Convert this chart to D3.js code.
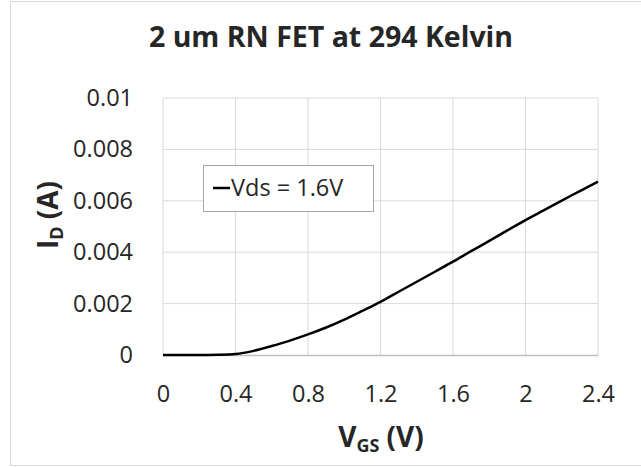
<!DOCTYPE html>
<html>
<head>
<meta charset="utf-8">
<script src="https://cdn.jsdelivr.net/npm/d3@7"></script>
<style>
  body { margin: 0; background: #fff; }
  text { font-family: "Open Sans", sans-serif; fill: #262626; }
</style>
</head>
<body>
<div id="chart"></div>
<script>
// data
var vgs = [0, 0.1, 0.2, 0.3, 0.4, 0.5, 0.6, 0.7, 0.8, 0.9, 1.0, 1.1, 1.2,
           1.3, 1.4, 1.5, 1.6, 1.7, 1.8, 1.9, 2.0, 2.1, 2.2, 2.3, 2.4];
var idValues = [0, 0, 0, 0.00001, 0.00004, 0.00016, 0.00035, 0.00056, 0.0008, 0.00107,
                0.00138, 0.00172, 0.00207, 0.00246, 0.00285, 0.00324, 0.00363, 0.00404,
                0.00444, 0.00485, 0.00525, 0.00563, 0.00601, 0.00638, 0.00675];
var xTicks = [0, 0.4, 0.8, 1.2, 1.6, 2, 2.4];
var yTicks = [0, 0.002, 0.004, 0.006, 0.008, 0.01];
var seriesName = "Vds = 1.6V";
var chartTitle = "2 um RN FET at 294 Kelvin";

var W = 641, H = 467;
var margin = { top: 98, right: 43, bottom: 112, left: 163 },
    width = W - margin.left - margin.right,
    height = H - margin.top - margin.bottom;

var svg = d3.select("#chart")
    .append("svg")
    .attr("width", W)
    .attr("height", H);

// outer chart border
svg.append("rect")
    .attr("x", 10.5).attr("y", 1.5)
    .attr("width", 640).attr("height", 464)
    .attr("fill", "#fff")
    .attr("stroke", "#d9d9d9");

var g = svg.append("g")
    .attr("transform", "translate(" + margin.left + "," + margin.top + ")");

var x = d3.scaleLinear().domain([0, 2.4]).range([0, width]);
var y = d3.scaleLinear().domain([0, 0.01]).range([height, 0]);

// gridlines
g.append("g").selectAll("line.v")
    .data(xTicks.slice(1))
    .enter().append("line")
    .attr("x1", function(d) { return x(d); })
    .attr("x2", function(d) { return x(d); })
    .attr("y1", 0).attr("y2", height)
    .attr("stroke", "#d9d9d9").attr("stroke-width", 1);

g.append("g").selectAll("line.h")
    .data(yTicks.slice(1))
    .enter().append("line")
    .attr("x1", 0).attr("x2", width)
    .attr("y1", function(d) { return y(d); })
    .attr("y2", function(d) { return y(d); })
    .attr("stroke", "#d9d9d9").attr("stroke-width", 1);

// left axis line
g.append("line")
    .attr("x1", 0).attr("x2", 0)
    .attr("y1", 0).attr("y2", height)
    .attr("stroke", "#d9d9d9");

// bottom axis
var xAxis = g.append("g")
    .attr("transform", "translate(0," + height + ")")
    .call(d3.axisBottom(x).tickValues(xTicks).tickSize(0).tickPadding(30)
        .tickFormat(function(d) { return d3.format("")(d); }));
xAxis.select(".domain").attr("stroke", "#bfbfbf").attr("stroke-width", 1.5);
xAxis.selectAll("text")
    .style("font-size", "23.5px")
    .attr("fill", "#262626");

var yAxis = g.append("g")
    .call(d3.axisLeft(y).tickValues(yTicks).tickSize(0).tickPadding(30)
        .tickFormat(function(d) { return d3.format("")(d); }));
yAxis.select(".domain").remove();
yAxis.selectAll("text")
    .style("font-size", "23.5px")
    .attr("fill", "#262626");

// the curve
var line = d3.line()
    .x(function(d, i) { return x(vgs[i]); })
    .y(function(d) { return y(d); })
    .curve(d3.curveMonotoneX);

g.append("path")
    .attr("d", line(idValues))
    .attr("fill", "none")
    .attr("stroke", "#000")
    .attr("stroke-width", 2.5);

// title
svg.append("text")
    .attr("x", 331).attr("y", 47)
    .attr("text-anchor", "middle")
    .style("font-size", "28.5px")
    .style("font-weight", "bold")
    .text(chartTitle);

// axis titles
var yt = svg.append("text")
    .attr("transform", "translate(58,215) rotate(-90)")
    .attr("text-anchor", "middle")
    .style("font-size", "28px")
    .style("font-weight", "bold");
yt.append("tspan").text("I");
yt.append("tspan").attr("dy", 5).style("font-size", "18px").text("D");
yt.append("tspan").attr("dy", -5).text(" (A)");

var xt = svg.append("text")
    .attr("x", 381).attr("y", 447)
    .attr("text-anchor", "middle")
    .style("font-size", "28px")
    .style("font-weight", "bold");
xt.append("tspan").text("V");
xt.append("tspan").attr("dy", 5).style("font-size", "18px").text("GS");
xt.append("tspan").attr("dy", -5).text(" (V)");

// legend
var lg = svg.append("g").attr("transform", "translate(203,165)");
lg.append("rect")
    .attr("x", 0.5).attr("y", 0.5)
    .attr("width", 170).attr("height", 46)
    .attr("fill", "#fff")
    .attr("stroke", "#a6a6a6");
lg.append("line")
    .attr("x1", 10).attr("x2", 27)
    .attr("y1", 23).attr("y2", 23)
    .attr("stroke", "#000").attr("stroke-width", 2.5);
lg.append("text")
    .attr("x", 28).attr("y", 31)
    .style("font-size", "23.5px")
    .text(seriesName);
</script>
</body>
</html>
